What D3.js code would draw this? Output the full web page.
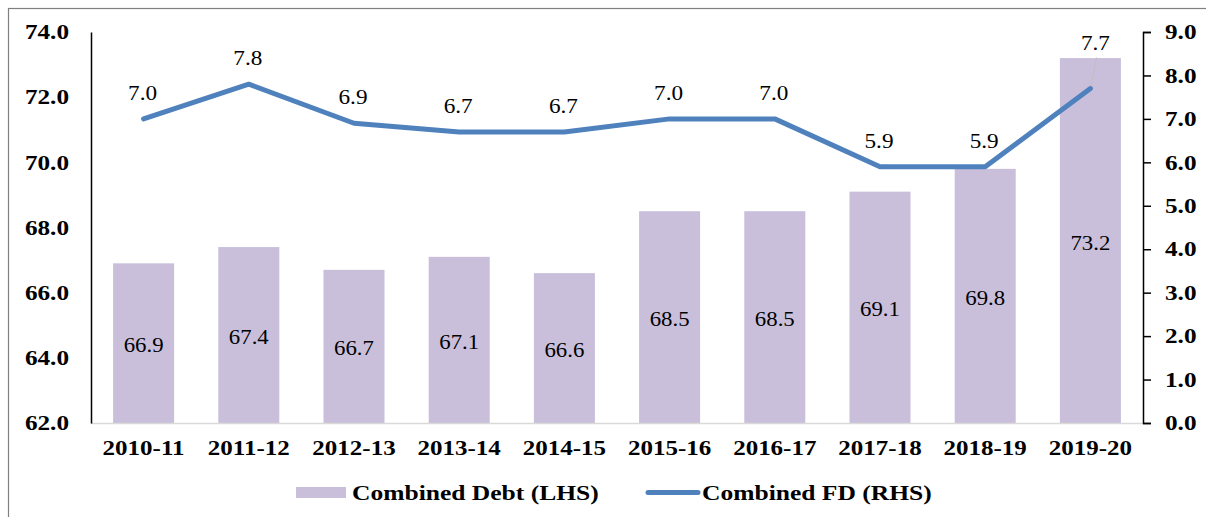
<!DOCTYPE html>
<html>
<head>
<meta charset="utf-8">
<script src="https://cdn.jsdelivr.net/npm/d3@7"></script>
<style>
  html, body { margin: 0; padding: 0; background: #fff; }
  svg { display: block; }
</style>
</head>
<body>
<svg id="chart" width="1206" height="517"></svg>
<script>
// Fiscal years
const years = ["2010-11","2011-12","2012-13","2013-14","2014-15","2015-16","2016-17","2017-18","2018-19","2019-20"];
// Combined debt, % of GDP (left axis)
const combinedDebt = [66.9, 67.4, 66.7, 67.1, 66.6, 68.5, 68.5, 69.1, 69.8, 73.2];
// Combined fiscal deficit, % of GDP (right axis)
const combinedFD = [7.0, 7.8, 6.9, 6.7, 6.7, 7.0, 7.0, 5.9, 5.9, 7.7];
// Axis ticks
const leftTicks = [62, 64, 66, 68, 70, 72, 74];
const rightTicks = [0, 1, 2, 3, 4, 5, 6, 7, 8, 9];
const legendLabels = ["Combined Debt (LHS)", "Combined FD (RHS)"];

const barColor = "#c9bfdb";
const lineColor = "#4f81bd";
const font = "'Liberation Serif', 'Times New Roman', serif";

// Widen glyphs horizontally (wide numeric face)
function widen(sel, factor) {
  sel.each(function () {
    const w = this.getComputedTextLength();
    d3.select(this).attr("textLength", w * factor).attr("lengthAdjust", "spacingAndGlyphs");
  });
}

const svg = d3.select("#chart");
const plot = { left: 91, right: 1143, top: 32, bottom: 423 };

// Outer frame
svg.append("rect")
  .attr("x", 8.5).attr("y", 8.5)
  .attr("width", 1220).attr("height", 530)
  .attr("fill", "none").attr("stroke", "#7f7f7f").attr("stroke-width", 1.2);

const x = d3.scaleBand().domain(years).range([plot.left, plot.right]).paddingInner(0.42).paddingOuter(0.21);
const yL = d3.scaleLinear().domain([62, 74]).range([plot.bottom, plot.top]);
const yR = d3.scaleLinear().domain([0, 9]).range([plot.bottom, plot.top]);

// Bars
svg.append("g").selectAll("rect")
  .data(years)
  .join("rect")
  .attr("x", d => x(d))
  .attr("width", x.bandwidth())
  .attr("y", (d, i) => yL(combinedDebt[i]))
  .attr("height", (d, i) => yL(62) - yL(combinedDebt[i]))
  .attr("fill", barColor);

// Bar value labels, centred in each bar
svg.append("g").selectAll("text")
  .data(years)
  .join("text")
  .attr("x", d => x(d) + x.bandwidth() / 2)
  .attr("y", (d, i) => (yL(combinedDebt[i]) + yL(62)) / 2 + 2)
  .attr("dy", "0.35em")
  .attr("text-anchor", "middle")
  .attr("font-family", font)
  .attr("font-size", 20)
  .attr("fill", "#000")
  .text((d, i) => combinedDebt[i].toFixed(1))
  .call(widen, 1.14);

// Category baseline
svg.append("line")
  .attr("x1", plot.left).attr("x2", plot.right)
  .attr("y1", plot.bottom + 0.5).attr("y2", plot.bottom + 0.5)
  .attr("stroke", "#d9d9d9").attr("stroke-width", 1.5);

// Left axis
const leftAxis = svg.append("g")
  .attr("transform", `translate(${plot.left},0)`)
  .call(d3.axisLeft(yL).tickValues(leftTicks).tickSize(0).tickPadding(22).tickFormat(d3.format(".1f")));
leftAxis.select(".domain").attr("stroke", "#000").attr("stroke-width", 1.5);
leftAxis.selectAll("text")
  .attr("font-family", font).attr("font-size", 21).attr("font-weight", "bold").attr("fill", "#000")
  .call(widen, 1.2);

// Right axis
const rightAxis = svg.append("g")
  .attr("transform", `translate(${plot.right},0)`)
  .call(d3.axisRight(yR).tickValues(rightTicks).tickSize(8).tickSizeOuter(8).tickPadding(14).tickFormat(d3.format(".1f")));
rightAxis.select(".domain").attr("stroke", "#000").attr("stroke-width", 1.5);
rightAxis.selectAll(".tick line").attr("stroke", "#000").attr("stroke-width", 1.5);
rightAxis.selectAll("text")
  .attr("font-family", font).attr("font-size", 21).attr("font-weight", "bold").attr("fill", "#000")
  .call(widen, 1.2);

// Category labels
svg.append("g").selectAll("text")
  .data(years)
  .join("text")
  .attr("x", d => x(d) + x.bandwidth() / 2)
  .attr("y", 448)
  .attr("dy", "0.35em")
  .attr("text-anchor", "middle")
  .attr("font-family", font)
  .attr("font-size", 21)
  .attr("font-weight", "bold")
  .attr("fill", "#000")
  .text(d => d)
  .call(widen, 1.19);

// Fiscal deficit line
const line = d3.line()
  .x((d, i) => x(years[i]) + x.bandwidth() / 2)
  .y(d => yR(d));
svg.append("path")
  .datum(combinedFD)
  .attr("d", line)
  .attr("fill", "none")
  .attr("stroke", lineColor)
  .attr("stroke-width", 5)
  .attr("stroke-linejoin", "round")
  .attr("stroke-linecap", "round");

// Line value labels; the last one is lifted with a leader line
const last = combinedFD.length - 1;
const labelOffset = (i) => i === last ? 45 : 26;
svg.append("line")
  .attr("x1", x(years[last]) + x.bandwidth() / 2 + 0.5)
  .attr("y1", yR(combinedFD[last]) - 2)
  .attr("x2", x(years[last]) + x.bandwidth() / 2 + 6)
  .attr("y2", yR(combinedFD[last]) - 31)
  .attr("stroke", "#bfbfbf").attr("stroke-width", 1);
svg.append("g").selectAll("text")
  .data(combinedFD)
  .join("text")
  .attr("x", (d, i) => x(years[i]) + x.bandwidth() / 2 + (i === last ? 5 : -1))
  .attr("y", (d, i) => yR(d) - labelOffset(i))
  .attr("dy", "0.35em")
  .attr("text-anchor", "middle")
  .attr("font-family", font)
  .attr("font-size", 20)
  .attr("fill", "#000")
  .text(d => d.toFixed(1))
  .call(widen, 1.16);

// Legend
const legend = svg.append("g").attr("transform", "translate(0,492)");
legend.append("rect")
  .attr("x", 296).attr("y", -5).attr("width", 50).attr("height", 11)
  .attr("fill", barColor);
legend.append("text")
  .attr("x", 352).attr("y", 0).attr("dy", "0.35em")
  .attr("font-family", font).attr("font-size", 22).attr("font-weight", "bold").attr("fill", "#000")
  .text(legendLabels[0])
  .call(widen, 1.16);
legend.append("line")
  .attr("x1", 648).attr("x2", 698).attr("y1", 0.5).attr("y2", 0.5)
  .attr("stroke", lineColor).attr("stroke-width", 5).attr("stroke-linecap", "round");
legend.append("text")
  .attr("x", 702).attr("y", 0).attr("dy", "0.35em")
  .attr("font-family", font).attr("font-size", 22).attr("font-weight", "bold").attr("fill", "#000")
  .text(legendLabels[1])
  .call(widen, 1.16);
</script>
</body>
</html>
